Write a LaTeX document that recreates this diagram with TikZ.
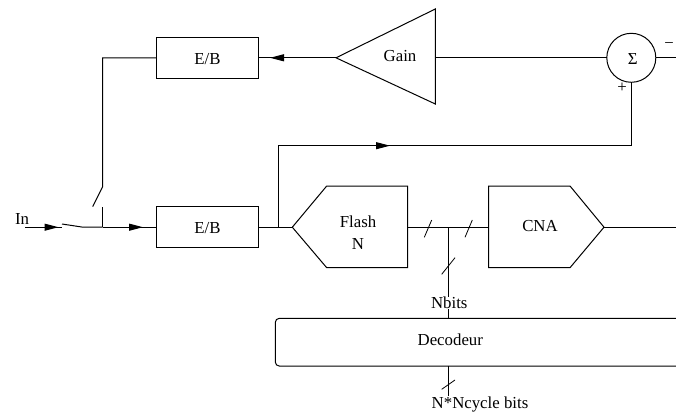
\documentclass[tikz,border=0pt]{standalone}
\usepackage{fontspec}
\setmainfont{Liberation Serif}
\usetikzlibrary{arrows.meta}
\tikzset{
  wire/.style={line width=1pt,line cap=butt},
  thin wire/.style={line width=0.8pt},
  blockbox/.style={draw,line width=1pt,rectangle,inner sep=0pt,outer sep=0pt,minimum width=101.7pt,minimum height=40.5pt},
  label/.style={inner sep=0pt,outer sep=0pt,font=\fontsize{16.8}{20}\selectfont,align=center},
  ahead/.style={wire,-{Triangle[length=14pt,width=7pt]}},
}
\begin{document}
\begin{tikzpicture}[x=1pt,y=-1pt]
\useasboundingbox (0,0) rectangle (676,414);
\clip (0,0) rectangle (676,414);
% blocks
\node[blockbox] (eb1) at (207.8,57.8) {};
\node[label] (eb1t) at (207.5,59) {E/B};
\node[blockbox] (eb2) at (207.8,227.2) {};
\node[label] (eb2t) at (207.5,228.5) {E/B};
\node[draw,circle,line width=1pt,inner sep=0pt,outer sep=0pt,minimum size=49pt] (sum) at (631.3,57.8) {};
\node[label] (sumt) at (632.7,59) {Σ};
\node[label] (minus) at (669,45.5) {−};
\node[label] (plus) at (622,87.5) {+};
\node[draw,rectangle,rounded corners=4pt,line width=1pt,inner sep=0pt,outer sep=0pt,minimum width=414.7pt,minimum height=47.7pt] (dec) at (482.65,342.2) {};
\node[label] (dect) at (450.3,340) {Decodeur};
% polygon blocks
\coordinate (gtip) at (336,57.8);
\coordinate (gtop) at (435.3,9);
\coordinate (gbot) at (435.3,104);
\coordinate (gout) at (435.3,57.8);
\draw[wire,line join=miter] (gtip) -- (gtop) -- (gbot) -- cycle;
\node[label] (gaint) at (400,55.7) {Gain};
\coordinate (ftip) at (292.3,227.2);
\coordinate (fout) at (407.7,227.2);
\draw[wire] (ftip) -- (326.7,186) -- (407.7,186) -- (407.7,267.7) -- (326.7,267.7) -- cycle;
\node[label] (flasht) at (358,232.5) {Flash\\[1.5pt]N};
\coordinate (cin) at (488.7,227.2);
\coordinate (ctip) at (604,227.2);
\draw[wire] (cin) -- (488.7,186) -- (570,186) -- (ctip) -- (570,267.7) -- (488.7,267.7) -- cycle;
\node[label] (cnat) at (540,226) {CNA};
% free ends
\coordinate (in) at (25,227.2);
\coordinate (swa) at (62,227.2);
\coordinate (swb) at (83,227.2);
\coordinate (node1) at (102.7,227.2);
\coordinate (stem) at (102.7,207);
\coordinate (swc) at (102.7,186.7);
\coordinate (swd) at (92.7,206.7);
\coordinate (corner1) at (102.7,57.8);
\coordinate (tap) at (278.7,227.2);
\coordinate (tapup) at (278.7,145.7);
\coordinate (fbend) at (631.3,145.7);
\coordinate (bus) at (448.3,227.2);
\coordinate (outr) at (676,227.2);
\coordinate (sumout) at (676,57.8);
\node[label] (in lab) at (22,219) {In};
\node[label] (nbits) at (449.3,303) {Nbits};
\node[label] (ncyc) at (480,404) {N*Ncycle bits};
% connectors
\draw[ahead] (in) -- (58.5,227.2);
\draw[wire] (in) -- (swa);
\draw[wire] (62,224) -- (swb) -- (node1);
\draw[ahead] (node1) -- (143,227.2);
\draw[wire] (node1) -- (eb2.west);
\draw[wire] (node1) -- (stem);
\draw[wire] (swd) -- (swc) -- (corner1) -- (eb1.west);
\draw[wire] (eb2.east) -- (ftip);
\draw[wire] (tap) -- (tapup) -- (fbend) -- (sum.south);
\draw[ahead] (tapup) -- (390,145.7);
\draw[wire] (gout) -- (sum.west);
\draw[wire] (sum.east) -- (sumout);
\draw[wire] (gtip) -- (eb1.east);
\draw[ahead] (299,57.8) -- (270,57.8);
\draw[wire] (fout) -- (cin);
\draw[wire] (ctip) -- (outr);
\draw[wire] (bus) -- (nbits.north -| bus);
\draw[wire] (nbits.south -| bus) -- (dec.north -| bus);
\draw[wire] (dec.south -| bus) -- (ncyc.north -| bus);
% slashes
\draw[thin wire] (424.3,237.3) -- (431.7,220);
\draw[thin wire] (465,237.3) -- (472.3,220);
\draw[thin wire] (441.7,274.3) -- (455,257.7);
\draw[thin wire] (441.7,389.3) -- (455,380);
\end{tikzpicture}
\end{document}
